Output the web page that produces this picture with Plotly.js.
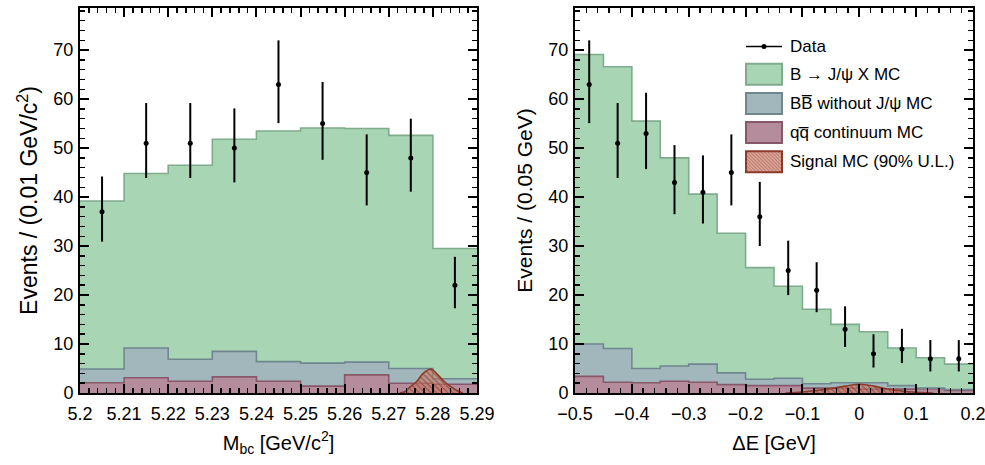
<!DOCTYPE html>
<html><head><meta charset="utf-8">
<script src="https://cdn.plot.ly/plotly-3.0.1.min.js"></script>
<style>html,body{margin:0;padding:0;background:#fff}#chart{width:985px;height:465px}</style>
</head><body><div id="chart"></div>
<script>
// ---------- data: M_bc panel ----------
const mbcEdges = [5.20, 5.21, 5.22, 5.23, 5.24, 5.25, 5.26, 5.27, 5.28, 5.29];
const mbcJpsiX = [34.3, 35.6, 39.6, 43.3, 47.1, 48.0, 47.7, 47.6, 26.6];
const mbcBBbar = [2.8, 6.1, 4.5, 5.2, 4.0, 4.7, 2.6, 3.0, 1.1];
const mbcQQ    = [2.1, 3.1, 2.4, 3.3, 2.4, 1.4, 3.7, 2.0, 1.8];
const mbcData  = [37, 51, 51, 50, 63, 55, 45, 48, 22];
const mbcErrUp = [7.2, 8.2, 8.2, 8.1, 9.0, 8.5, 7.8, 8.0, 5.8];
const mbcErrDn = [6.1, 7.1, 7.1, 7.0, 7.9, 7.4, 6.7, 6.9, 4.7];
const mbcSigX  = [5.2725, 5.2737, 5.2748, 5.2763, 5.2778, 5.2796, 5.2809, 5.2824, 5.2839, 5.2854, 5.2868];
const mbcSigY  = [0, 0.3, 1.2, 2.3, 4.0, 4.9, 3.9, 2.5, 1.4, 0.5, 0];

// ---------- data: Delta E panel ----------
const deEdges = [-0.50, -0.45, -0.40, -0.35, -0.30, -0.25, -0.20, -0.15, -0.10, -0.05, 0.00, 0.05, 0.10, 0.15, 0.20];
const deJpsiX = [59.1, 57.5, 50.5, 42.5, 34.7, 28.5, 22.8, 18.8, 15.2, 11.9, 10.4, 7.7, 6.2, 5.2];
const deBBbar = [6.6, 6.9, 2.9, 3.1, 3.7, 2.4, 1.3, 1.5, 0.9, 1.1, 1.3, 0.7, 0.1, 0.2];
const deQQ    = [3.4, 2.2, 2.1, 2.4, 2.2, 1.7, 1.5, 1.5, 1.0, 1.0, 0.8, 0.8, 0.9, 0.5];
const deData  = [63, 51, 53, 43, 41, 45, 36, 25, 21, 13, 8, 9, 7, 7];
const deErrUp = [9.0, 8.2, 8.3, 7.6, 7.5, 7.8, 7.1, 6.1, 5.7, 4.7, 4.0, 4.1, 3.8, 3.8];
const deErrDn = [7.9, 7.1, 7.3, 6.5, 6.4, 6.7, 6.0, 5.0, 4.5, 3.6, 2.8, 2.9, 2.6, 2.6];
const deSigX  = [-0.13, -0.10, -0.075, -0.05, -0.025, 0.0, 0.025, 0.05, 0.075, 0.10, 0.13];
const deSigY  = [0, 0.2, 0.5, 0.9, 1.4, 1.8, 1.4, 0.8, 0.4, 0.15, 0];

// ---------- labels ----------
const legendLabels = ['Data', 'B \u2192 J/\u03c8 X MC', 'BB\u0305 without J/\u03c8 MC', 'qq\u0305 continuum MC', 'Signal MC (90% U.L.)'];

// ---------- styles ----------
const FONT = 'Liberation Sans, Arial, Helvetica, sans-serif';
const C = {
  green: '#a8d5b4', greenLine: '#80ab8d',
  gray: '#a2b7bc', grayLine: '#70878f',
  pink: '#b58c9b', pinkLine: '#86586a',
  sig: 'rgba(196,120,100,0.55)', sigLine: '#8c3a28', sigHatch: '#9a4a38'
};

function stepY(v) { return v.concat([v[v.length - 1]]); }
function centers(e) { const c = []; for (let i = 0; i < e.length - 1; i++) c.push((e[i] + e[i + 1]) / 2); return c; }

function panel(edges, qq, bb, jx, data, up, dn, sx, sy, xa, ya, grp) {
  const base = {x: edges, mode: 'lines', line: {shape: 'hv', width: 1.6}, stackgroup: grp, xaxis: xa, yaxis: ya, showlegend: false, hoverinfo: 'skip'};
  return [
    Object.assign({}, base, {name: legendLabels[3], y: stepY(qq), fillcolor: C.pink, line: {shape: 'hv', width: 1.6, color: C.pinkLine}}),
    Object.assign({}, base, {name: legendLabels[2], y: stepY(bb), fillcolor: C.gray, line: {shape: 'hv', width: 1.6, color: C.grayLine}}),
    Object.assign({}, base, {name: legendLabels[1], y: stepY(jx), fillcolor: C.green, line: {shape: 'hv', width: 1.6, color: C.greenLine}}),
    {name: legendLabels[4], x: sx, y: sy, mode: 'lines', line: {shape: 'spline', color: C.sigLine, width: 1.6}, fill: 'tozeroy',
     fillcolor: C.sig, fillpattern: {shape: '\\', fgcolor: C.sigHatch, bgcolor: C.sig, size: 4, solidity: 0.25},
     xaxis: xa, yaxis: ya, showlegend: false, hoverinfo: 'skip'},
    {name: legendLabels[0], x: centers(edges), y: data, mode: 'markers', marker: {color: '#000', size: 5},
     error_y: {type: 'data', symmetric: false, array: up, arrayminus: dn, color: '#000', thickness: 2, width: 0},
     xaxis: xa, yaxis: ya, showlegend: false}
  ];
}

const traces = [].concat(
  panel(mbcEdges, mbcQQ, mbcBBbar, mbcJpsiX, mbcData, mbcErrUp, mbcErrDn, mbcSigX, mbcSigY, 'x', 'y', 'mbc'),
  panel(deEdges, deQQ, deBBbar, deJpsiX, deData, deErrUp, deErrDn, deSigX, deSigY, 'x2', 'y2', 'de')
);

const W = 985, H = 465, ML = 80, MR = 12, MT = 8, MB = 72;
const PW = W - ML - MR, PH = H - MT - MB;
const px = v => (v - ML) / PW;
const py = v => (H - MB - v) / PH;

function axisCommon(extra) {
  return Object.assign({
    showline: true, linecolor: '#000', linewidth: 2, mirror: 'allticks',
    ticks: 'inside', ticklen: 9, tickwidth: 2, tickcolor: '#000',
    showgrid: false, zeroline: false, automargin: false, fixedrange: true,
    ticklabeloverflow: 'allow',
    tickfont: {family: FONT, size: 18, color: '#000'}
  }, extra);
}

const titleFont = {family: FONT, size: 20, color: '#000'};

const layout = {
  width: W, height: H,
  margin: {l: ML, r: MR, t: MT, b: MB},
  paper_bgcolor: '#fff', plot_bgcolor: '#fff',
  showlegend: false,
  font: {family: FONT, color: '#000'},
  xaxis: axisCommon({domain: [0, px(477)], range: [5.2, 5.29001], tick0: 5.2, dtick: 0.01, ticklabelstandoff: 3,
    minor: {dtick: 0.002, ticks: 'inside', ticklen: 5, tickwidth: 1.5, tickcolor: '#000'},
    title: {text: 'M<sub>bc</sub> [GeV/c<sup>2</sup>]', font: titleFont, standoff: 13}, anchor: 'y'}),
  yaxis: axisCommon({domain: [0, 1], range: [0, 78.6], dtick: 10, ticklabelstandoff: 1,
    minor: {dtick: 2, ticks: 'inside', ticklen: 5, tickwidth: 1.5, tickcolor: '#000'},
    title: {text: 'Events / (0.01 GeV/c<sup>2</sup>)', font: {family: FONT, size: 23, color: '#000'}, standoff: 9}, anchor: 'x'}),
  xaxis2: axisCommon({domain: [px(575), 1], range: [-0.5, 0.20001], tick0: -0.5, dtick: 0.1, ticklabelstandoff: 3,
    minor: {dtick: 0.02, ticks: 'inside', ticklen: 5, tickwidth: 1.5, tickcolor: '#000'},
    title: {text: '\u0394E [GeV]', font: titleFont, standoff: 13}, anchor: 'y2'}),
  yaxis2: axisCommon({domain: [0, 1], range: [0, 78.6], dtick: 10, ticklabelstandoff: 1,
    minor: {dtick: 2, ticks: 'inside', ticklen: 5, tickwidth: 1.5, tickcolor: '#000'},
    title: {text: 'Events / (0.05 GeV)', font: {family: FONT, size: 21, color: '#000'}, standoff: 10}, anchor: 'x2'}),
  shapes: [],
  annotations: []
};

// ---------- hand-drawn legend (inside right panel) ----------
const LX0 = 746, LX1 = 782, TX = 788;
const rowY = [46.5, 74.2, 103.6, 132.5, 161.7];
const boxFill = [null, C.green, C.gray, C.pink, 'rgba(196,120,100,0.7)'];
const boxLine = [null, C.greenLine, C.grayLine, C.pinkLine, C.sigLine];
layout.shapes.push({type: 'line', xref: 'paper', yref: 'paper', x0: px(LX0), x1: px(LX1), y0: py(rowY[0]), y1: py(rowY[0]), line: {color: '#000', width: 1.6}});
layout.shapes.push({type: 'circle', xref: 'paper', yref: 'paper', x0: px(764 - 2.5), x1: px(764 + 2.5), y0: py(rowY[0] + 2.5), y1: py(rowY[0] - 2.5), fillcolor: '#000', line: {color: '#000', width: 0}});
for (let i = 1; i < 5; i++) {
  const t = rowY[i] - 10.5, b = rowY[i] + 10.5;
  layout.shapes.push({type: 'rect', xref: 'paper', yref: 'paper', x0: px(LX0), x1: px(LX1), y0: py(b), y1: py(t),
    fillcolor: boxFill[i], line: {color: boxLine[i], width: 2}});
}
(function () {
  const x0 = LX0, y0 = rowY[4] - 10.5, w = LX1 - LX0, h = 21;
  let p = '';
  for (let s = -h; s < w; s += 3.5) {
    const ts = Math.max(0, -s), te = Math.min(h, w - s);
    if (ts < te) p += 'M' + px(x0 + s + ts) + ',' + py(y0 + ts) + 'L' + px(x0 + s + te) + ',' + py(y0 + te);
  }
  layout.shapes.push({type: 'path', xref: 'paper', yref: 'paper', path: p, line: {color: 'rgba(150,70,55,0.55)', width: 0.8}});
})();
for (let i = 0; i < 5; i++) {
  layout.annotations.push({xref: 'paper', yref: 'paper', x: px(TX), y: py(rowY[i]), xanchor: 'left', yanchor: 'middle',
    text: legendLabels[i], showarrow: false, font: {family: FONT, size: 17, color: '#000'}});
}

Plotly.newPlot('chart', traces, layout, {displayModeBar: false, staticPlot: true});
</script>
</body></html>
